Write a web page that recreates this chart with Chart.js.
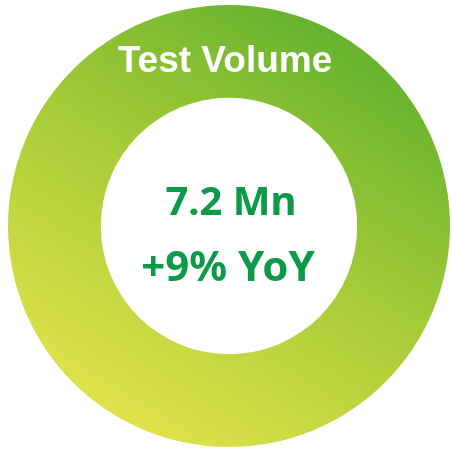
<!DOCTYPE html>
<html>
<head>
<meta charset="utf-8">
<script src="https://cdn.jsdelivr.net/npm/chart.js@4/dist/chart.umd.min.js"></script>
<style>
  html, body { margin: 0; padding: 0; background: #fff; }
  #wrap { width: 452px; height: 450px; }
</style>
</head>
<body>
<div id="wrap"><canvas id="chart" width="452" height="450"></canvas></div>
<script>
// chart data
const categories = ["Test Volume"];
const values = [7.2];
const centerLines = ["7.2 Mn", "+9% YoY"];

// ring gradient, yellow bottom-left to green top-right
function ringGradient(context) {
  const chart = context.chart;
  const area = chart.chartArea;
  if (!area) return "#9cc83a";
  const g = chart.ctx.createLinearGradient(area.left + 90, area.bottom, area.right - 80, area.top);
  g.addColorStop(0, "#e8e54d");
  g.addColorStop(0.5, "#a8cc38");
  g.addColorStop(1, "#5aae2d");
  return g;
}

// title on the ring and text in the hole
const labelsPlugin = {
  id: "labels",
  afterDraw(chart) {
    const ctx = chart.ctx;
    const meta = chart.getDatasetMeta(0).data[0];
    const cx = meta.x, cy = meta.y;
    ctx.save();
    ctx.textAlign = "center";
    ctx.textBaseline = "alphabetic";
    ctx.fillStyle = "#ffffff";
    ctx.font = "bold 37px 'Liberation Sans', Arial, sans-serif";
    ctx.fillText(categories[0], cx - 4, 72);
    ctx.fillStyle = "#0b9a48";
    ctx.font = "bold 40px 'Noto Sans', sans-serif";
    ctx.fillText(centerLines[0], cx + 2, 215);
    ctx.font = "bold 42px 'Noto Sans', sans-serif";
    ctx.fillText(centerLines[1], cx - 1, 281);
    ctx.restore();
  }
};

new Chart(document.getElementById("chart"), {
  type: "doughnut",
  data: {
    labels: categories,
    datasets: [{
      data: values,
      backgroundColor: ringGradient,
      borderWidth: 0
    }]
  },
  options: {
    responsive: false,
    animation: false,
    cutout: "58%",
    layout: { padding: { left: 8, right: 2, top: 5, bottom: 3 } },
    plugins: {
      legend: { display: false },
      tooltip: { enabled: false }
    }
  },
  plugins: [labelsPlugin]
});
</script>
</body>
</html>
